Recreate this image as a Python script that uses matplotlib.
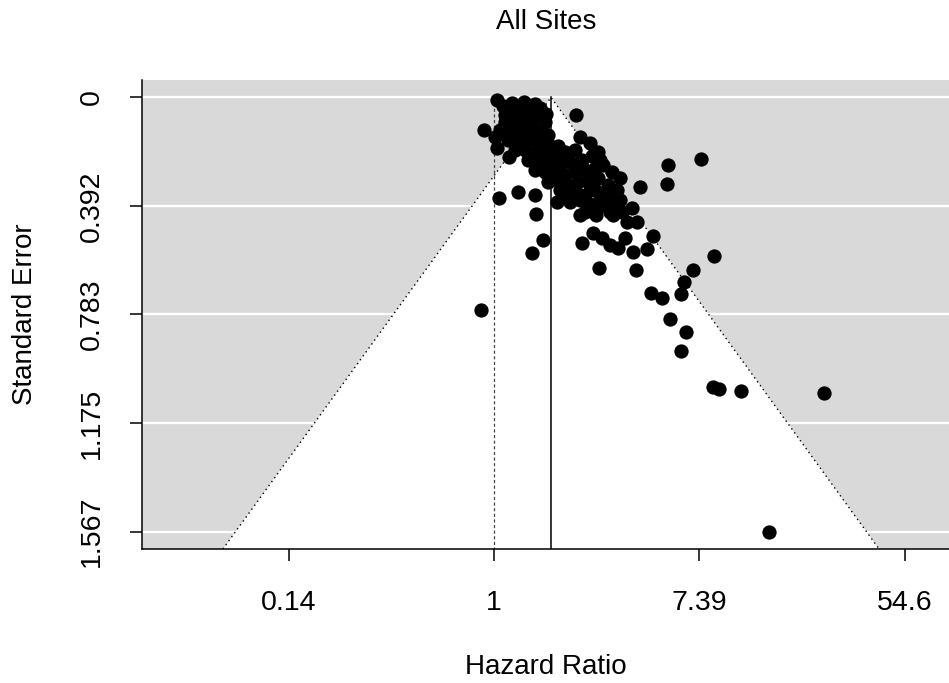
import matplotlib
matplotlib.use("Agg")
import matplotlib.pyplot as plt
import numpy as np

plt.rcParams['font.family'] = ['Liberation Sans', 'DejaVu Sans']

title = "All Sites"
xlabel = "Hazard Ratio"
ylabel = "Standard Error"
estimate = 0.555          # pooled log hazard ratio
refline = 0.0
x_ticks = [-2, 0, 2, 4]
x_ticklabels = ["0.14", "1", "7.39", "54.6"]
y_ticks = [0, 0.392, 0.783, 1.175, 1.567]
y_ticklabels = ["0", "0.392", "0.783", "1.175", "1.567"]

# log hazard ratios and standard errors
log_hr = [
    -0.127, 2.678, 3.213, 2.405, 2.191, 2.132, 1.821, 1.870, 1.714, 1.636,
    1.529, 1.821, 1.850, 1.938, 2.142, 1.383, 1.022, 1.548, 1.353, 1.490,
    1.276, 0.857, 0.964, 1.052, 1.129, 1.207, 0.477, 0.370, 0.409, 0.049,
    0.234, 0.399, 1.422, 1.685, 1.694, 2.016, 0.799, 0.029, 0.088, 0.175,
    0.292, -0.097, 0.010, 0.029, 0.146, 0.613, 0.837, 1.129, 1.295, 1.392,
    1.344, 1.159,
    0.156, 0.253, 0.351, 0.448, 0.506,
    0.107, 0.205, 0.302, 0.399, 0.497,
    0.058, 0.175, 0.273, 0.370, 0.467,
    0.136, 0.234, 0.331, 0.428, 0.526, 0.623, 0.935, 0.837,
    0.205, 0.302, 0.399, 0.497, 0.594, 0.691, 0.789, 1.013,
    0.331, 0.448, 0.545, 0.643, 0.740, 0.857, 0.954, 1.032,
    0.399, 0.497, 0.594, 0.691, 0.789, 0.886, 0.983, 1.061,
    0.526, 0.623, 0.721, 0.818, 0.915, 1.013, 1.110,
    0.691, 0.789, 0.886, 0.983, 1.100, 1.198,
    0.740, 0.935, 1.032, 1.227,
    0.886, 0.993,
    0.107, 0.205, 0.399, 0.331, 0.428, 0.253, 0.107, 0.526,
    0.672, 0.818, 0.935, 1.032, 1.149, 1.246, 0.643, 0.837,
    1.149, 1.227, 0.475, 0.575,
]
se = [
    0.767, 1.567, 1.066, 1.059, 1.052, 1.045, 0.915, 0.846, 0.800, 0.724,
    0.706, 0.710, 0.666, 0.623, 0.573, 0.623, 0.616, 0.501, 0.558, 0.548,
    0.508, 0.526, 0.490, 0.508, 0.533, 0.544, 0.515, 0.562, 0.421, 0.364,
    0.342, 0.353, 0.324, 0.313, 0.245, 0.223, 0.065, 0.011, 0.032, 0.022,
    0.018, 0.119, 0.144, 0.184, 0.216, 0.378, 0.425, 0.414, 0.450, 0.450,
    0.400, 0.425,
    0.054, 0.054, 0.047, 0.040, 0.061,
    0.090, 0.083, 0.083, 0.076, 0.090,
    0.119, 0.112, 0.119, 0.112, 0.126,
    0.155, 0.155, 0.155, 0.162, 0.169, 0.177, 0.166, 0.144,
    0.191, 0.191, 0.198, 0.191, 0.209, 0.198, 0.191, 0.198,
    0.227, 0.234, 0.227, 0.245, 0.234, 0.227, 0.213, 0.227,
    0.263, 0.270, 0.263, 0.281, 0.270, 0.263, 0.256, 0.245,
    0.306, 0.299, 0.317, 0.306, 0.299, 0.292, 0.317,
    0.353, 0.335, 0.353, 0.335, 0.360, 0.335,
    0.378, 0.385, 0.393, 0.371,
    0.414, 0.425,
    0.065, 0.040, 0.025, 0.101, 0.126, 0.137, 0.130, 0.137,
    0.220, 0.245, 0.317, 0.353, 0.382, 0.414, 0.335, 0.371,
    0.270, 0.292, 0.205, 0.285,
]

W, H = 949, 683
fig = plt.figure(figsize=(W / 100, H / 100), dpi=100)
ax = fig.add_axes([142 / W, (H - 549) / H, 1 - 142 / W, (549 - 80) / H])

se_max = max(se)
ylo, yhi = -0.04 * se_max, 1.04 * se_max
ax.set_ylim(yhi, ylo)
ax.set_xlim(-3.427, 4.43)

ax.set_facecolor("#d9d9d9")
for t in y_ticks:
    ax.axhline(t, color="white", lw=1.6, zorder=1)

# funnel
z = 1.959964
ax.fill([estimate - z * yhi, estimate, estimate + z * yhi],
        [yhi, 0, yhi], color="white", zorder=2, lw=0)
ax.plot([estimate - z * yhi, estimate, estimate + z * yhi], [yhi, 0, yhi],
        color="black", lw=1, linestyle=(0, (1, 2.5)), zorder=3)
ax.plot([refline, refline], [0, yhi], color="#444444", lw=0.9,
        linestyle=(0, (2.5, 2)), zorder=3)
ax.plot([estimate, estimate], [0, yhi], color="black", lw=1.1, zorder=3)

ax.scatter(log_hr, se, s=106, color="black", linewidths=0, zorder=5,
           clip_on=False)

for s in ["top", "right"]:
    ax.spines[s].set_visible(False)
for s in ["left", "bottom"]:
    ax.spines[s].set_linewidth(1.1)
    ax.spines[s].set_zorder(6)

ax.set_xticks(x_ticks)
ax.set_xticklabels(x_ticklabels)
ax.set_yticks(y_ticks)
ax.set_yticklabels(y_ticklabels, rotation=90, va="center")
ax.tick_params(axis="both", length=8.6, width=1.1, labelsize=20.5)
ax.tick_params(axis="x", pad=21)
ax.tick_params(axis="y", pad=18)

fig.text(546 / W, 1 - 22 / H, title, ha="center", va="center", fontsize=20)
fig.text(546 / W, 1 - 667 / H, xlabel, ha="center", va="center", fontsize=20)
fig.text(25 / W, 1 - 314 / H, ylabel, ha="center", va="center", fontsize=20,
         rotation=90)

fig.savefig("out.png", dpi=100)
